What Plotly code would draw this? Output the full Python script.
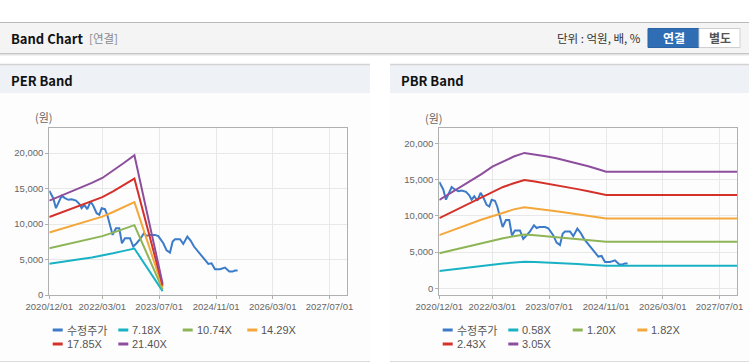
import plotly.graph_objects as go

W, H = 749, 364

# ---------------- data ----------------
price_dates = ["2020-12-01","2021-01-04","2021-01-27","2021-02-25","2021-03-17","2021-04-14","2021-05-13",
               "2021-06-11","2021-07-18","2021-08-15","2021-09-04","2021-09-27","2021-10-23","2021-11-20",
               "2021-12-13","2022-01-11","2022-02-03","2022-02-23","2022-03-23","2022-04-12","2022-05-05",
               "2022-05-28","2022-06-26","2022-07-24","2022-08-16","2022-09-11","2022-10-24","2022-11-21",
               "2022-12-20","2023-01-18","2023-02-21","2023-03-16","2023-04-08","2023-05-26","2023-06-24",
               "2023-08-06","2023-09-03","2023-10-02","2023-10-25","2023-11-14","2023-12-27","2024-01-24",
               "2024-02-28","2024-03-27","2024-04-25","2024-06-01","2024-06-29","2024-08-06","2024-08-26",
               "2024-09-23","2024-10-22","2024-12-04","2024-12-27","2025-01-16","2025-02-22","2025-03-22",
               "2025-04-11","2025-05-04"]
price = [14700,13650,12240,13420,13980,13650,13420,13510,13320,12850,12240,12710,12100,13180,12570,
         11530,11300,12240,12100,11300,9650,8470,9420,9420,7300,8000,8000,6830,7300,7860,8710,8330,
         8470,8470,8300,7300,6300,5980,7530,7860,7860,7200,8240,7670,6830,6120,5510,4710,4380,4470,
         3630,3630,3770,3860,3300,3300,3440,3440]

per_dates = ["2020-12-01","2021-03-01","2021-06-01","2021-09-01","2021-12-01","2022-03-01",
             "2022-06-01","2022-09-01","2022-12-01","2023-07-31"]
per_718 = [4400,4650,4870,5080,5300,5550,5880,6220,6550,540]
per_1074 = [6600,6950,7300,7600,7950,8300,8800,9300,9850,800]
per_1429 = [8800,9250,9700,10150,10550,11050,11700,12400,13100,1070]
per_1785 = [11000,11550,12150,12650,13200,13800,14600,15500,16400,1340]
per_2140 = [13300,13900,14600,15200,15800,16500,17500,18600,19700,1600]

pbr_dates = ["2020-12-01","2021-03-01","2021-06-01","2021-09-01","2021-12-01","2022-03-01","2022-06-01",
             "2022-09-01","2022-12-01","2023-03-01","2023-06-01","2023-09-01","2023-12-01","2024-03-01",
             "2024-06-01","2024-09-01","2024-11-01","2027-12-01"]
pbr_058 = [2400,2550,2730,2900,3080,3250,3420,3580,3680,3650,3600,3520,3450,3350,3250,3180,3120,3120]
pbr_120 = [4850,5200,5550,5900,6250,6600,6900,7200,7420,7320,7200,7050,6900,6750,6650,6500,6420,6420]
pbr_182 = [7350,7900,8450,9000,9500,9950,10450,10900,11200,11050,10850,10650,10450,10250,10050,9800,9650,9650]
pbr_243 = [9680,10400,11100,11900,12600,13300,14000,14500,14950,14750,14500,14250,13950,13700,13400,13100,12900,12900]
pbr_305 = [12200,13100,13950,14850,15800,16800,17500,18200,18700,18500,18250,17950,17600,17200,16850,16400,16100,16100]

per_names = ["수정주가", "7.18X", "10.74X", "14.29X", "17.85X", "21.40X"]
pbr_names = ["수정주가", "0.58X", "1.20X", "1.82X", "2.43X", "3.05X"]

x_tickvals = ["2020-12-01","2022-03-01","2023-07-01","2024-11-01","2026-03-01","2027-07-01"]
x_ticktext = ["2020/12/01","2022/03/01","2023/07/01","2024/11/01","2026/03/01","2027/07/01"]
y_tickvals = [0, 5000, 10000, 15000, 20000]
x_range = ["2020-12-01", "2027-12-01"]

colors = ["#3b7bc8", "#19b2c5", "#8db556", "#f4a73a", "#d5312b", "#8e4e9e"]

SANS = "Liberation Sans, Arial, sans-serif"
KR = "Noto Sans CJK KR, sans-serif"

# ---------------- figure ----------------
def px(x):
    return x / W

def py(y):
    return 1 - y / H

fig = go.Figure()

per_series = [(price_dates, price), (per_dates, per_718), (per_dates, per_1074),
              (per_dates, per_1429), (per_dates, per_1785), (per_dates, per_2140)]
pbr_series = [(price_dates, price), (pbr_dates, pbr_058), (pbr_dates, pbr_120),
              (pbr_dates, pbr_182), (pbr_dates, pbr_243), (pbr_dates, pbr_305)]

for i, (d, v) in enumerate(per_series):
    fig.add_trace(go.Scatter(x=d, y=v, name=per_names[i], mode="lines",
                             line=dict(color=colors[i], width=2), xaxis="x", yaxis="y",
                             showlegend=False))
for i, (d, v) in enumerate(pbr_series):
    fig.add_trace(go.Scatter(x=d, y=v, name=pbr_names[i], mode="lines",
                             line=dict(color=colors[i], width=2), xaxis="x2", yaxis="y2",
                             showlegend=False))

tickfont = dict(family=SANS, size=9.5, color="#666666")
common_x = dict(type="date", range=x_range, tickvals=x_tickvals, ticktext=x_ticktext, tickangle=0,
                automargin=False,
                showgrid=True, gridcolor="#e8e8e8", gridwidth=1, showline=True, mirror=True,
                linecolor="#b0b0b0", linewidth=1, ticks="outside", ticklen=3, tickcolor="#b0b0b0",
                tickfont=tickfont, zeroline=False, fixedrange=True)
common_y = dict(tickvals=y_tickvals, tickformat=",d", showgrid=True, gridcolor="#e8e8e8", gridwidth=1,
                automargin=False,
                showline=True, mirror=True, linecolor="#b0b0b0", linewidth=1, ticks="outside",
                ticklen=3, tickcolor="#b0b0b0", tickfont=tickfont, zeroline=False, fixedrange=True)

ydom = [py(295), py(128.3)]
fig.update_layout(
    width=W, height=H, autosize=False,
    margin=dict(l=0, r=0, t=0, b=0, pad=0, autoexpand=False),
    paper_bgcolor="white", plot_bgcolor="white",
    showlegend=False,
    xaxis=dict(domain=[px(49.3), px(347.3)], anchor="y", **common_x),
    yaxis=dict(domain=ydom, anchor="x", range=[0, 23500], **common_y),
    xaxis2=dict(domain=[px(439.3), px(737.3)], anchor="y2", **common_x),
    yaxis2=dict(domain=ydom, anchor="x2", range=[-925, 22100], **common_y),
)

shapes = []
ann = []

def rect(x0, y0, x1, y1, fill, line=None, lw=0):
    shapes.append(dict(type="rect", xref="paper", yref="paper", x0=px(x0), x1=px(x1),
                       y0=py(y1), y1=py(y0), fillcolor=fill,
                       line=dict(color=line or fill, width=lw), layer="below"))

def hline(x0, x1, y, color, w=1):
    shapes.append(dict(type="line", xref="paper", yref="paper", x0=px(x0), x1=px(x1),
                       y0=py(y), y1=py(y), line=dict(color=color, width=w), layer="below"))

def text(x, y, s, size=12, color="#333", bold=False, xanchor="left", family=KR):
    ann.append(dict(xref="paper", yref="paper", x=px(x), y=py(y), text=("<b>%s</b>" % s) if bold else s,
                    showarrow=False, xanchor=xanchor, yanchor="middle", borderpad=0,
                    font=dict(size=size, color=color, family=family)))

# top header bar
rect(0, 22, 749, 53, "#f4f4f4")
hline(0, 749, 22.5, "#b9b9b9", 1)
hline(0, 749, 53.5, "#c6c6c6", 1)
hline(0, 749, 54.5, "#e2e2e2", 1)
hline(0, 749, 55.5, "#f2f2f2", 1)
text(10, 38.5, "Band Chart", size=13, color="#111", bold=True)
text(88, 38.5, "[연결]", size=11.5, color="#8a8a8a")
text(642, 38.5, "단위 : 억원, 배, %", size=11.5, color="#333", xanchor="right")
rect(648, 28.5, 699, 47.5, "#2f6eb4", "#2a63a3", 1)
rect(699, 28.5, 740, 47.5, "#ffffff", "#cfcfcf", 1)
text(673.5, 38, "연결", size=12, color="#ffffff", bold=True, xanchor="center")
text(719.5, 38, "별도", size=12, color="#555555", bold=True, xanchor="center")

# panel headers
for x0, x1, title in [(0, 370, "PER Band"), (390, 749, "PBR Band")]:
    rect(x0, 64, x1, 93, "#eef1f6")
    hline(x0, x1, 64.5, "#d3d3d3", 1.5)
    rect(x0, 93, x1, 361, "#fdfdfd")
    hline(x0, x1, 361.5, "#dcdcdc", 1)
    text(x0 + 10, 80, title, size=13, color="#111", bold=True)

text(44, 117, "(원)", size=11, color="#666", xanchor="center")
text(434, 118, "(원)", size=11, color="#666", xanchor="center")

# manual legends
leg_pos = [(52.7, 330), (118.3, 330), (182.7, 330), (247.3, 330), (52.7, 344), (118.3, 344)]
for offset, names in [(0, per_names), (390, pbr_names)]:
    for i, (lx, ly) in enumerate(leg_pos):
        x0 = lx + offset
        shapes.append(dict(type="line", xref="paper", yref="paper", x0=px(x0), x1=px(x0 + 10),
                           y0=py(ly), y1=py(ly), line=dict(color=colors[i], width=3)))
        if i == 0:
            text(x0 + 13, ly, names[i], size=11, color="#555", family=KR)
        else:
            text(x0 + 13, ly, names[i], size=11, color="#555", family=SANS)

fig.update_layout(shapes=shapes, annotations=ann)
fig.write_html("out.html", config={"displayModeBar": False},
               post_script="document.body.style.margin='0px';")
